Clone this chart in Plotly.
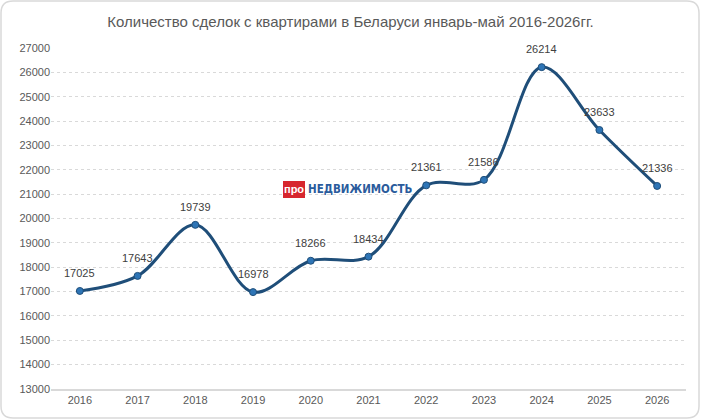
import plotly.graph_objects as go

years = ["2016", "2017", "2018", "2019", "2020", "2021",
         "2022", "2023", "2024", "2025", "2026"]
deals = [17025, 17643, 19739, 16978, 18266, 18434,
         21361, 21586, 26214, 23633, 21336]

title_text = "Количество сделок с квартирами в Беларуси январь-май 2016-2026гг."

W, H = 701, 420
ML, MR, MT, MB = 51, 15, 48, 31
PW, PH = W - ML - MR, H - MT - MB


def px_x(p):
    # pixel column -> paper fraction
    return (p - ML) / PW


def px_y(p):
    # pixel row -> paper fraction
    return (H - MB - p) / PH


fig = go.Figure()
fig.add_trace(go.Scatter(
    x=years, y=deals,
    mode="lines+markers",
    line=dict(color="#1f4e79", width=3, shape="spline", smoothing=1.0),
    marker=dict(color="#2e75b6", size=7, line=dict(color="#1f4e79", width=1)),
    cliponaxis=False,
    hoverinfo="x+y",
))

# data labels above each point (category index, since labels look numeric)
for i, v in enumerate(deals):
    fig.add_annotation(x=i, y=v, xref="x", yref="y", text=str(v),
                       showarrow=False, yshift=18,
                       font=dict(family="Liberation Sans, Arial", size=11, color="#404040"))

# rounded frame around the whole chart
x0, x1, y0, y1, r = px_x(1), px_x(699), px_y(1), px_y(418), 12
rx, ry = r / PW, r / PH
path = (f"M {x0 + rx} {y0} L {x1 - rx} {y0} Q {x1} {y0} {x1} {y0 - ry} "
        f"L {x1} {y1 + ry} Q {x1} {y1} {x1 - rx} {y1} "
        f"L {x0 + rx} {y1} Q {x0} {y1} {x0} {y1 + ry} "
        f"L {x0} {y0 - ry} Q {x0} {y0} {x0 + rx} {y0} Z")
fig.add_shape(type="path", path=path, xref="paper", yref="paper",
              line=dict(color="#d9d9d9", width=1.5), layer="below")

# watermark logo
fig.add_shape(type="rect", xref="paper", yref="paper",
              x0=px_x(283), x1=px_x(305), y0=px_y(198), y1=px_y(181),
              fillcolor="#d7262e", line=dict(width=0))
fig.add_annotation(x=px_x(294), y=px_y(189), xref="paper", yref="paper",
                   text="<b>про</b>", showarrow=False,
                   font=dict(family="Liberation Sans, Arial", size=11, color="white"))
fig.add_annotation(x=px_x(306), y=px_y(189), xref="paper", yref="paper",
                   xanchor="left", text="<b>НЕДВИЖИМОСТЬ</b>", showarrow=False,
                   font=dict(family="DejaVu Sans Condensed, Arial Narrow, Arial",
                             size=11.5, color="#2a5b9c"))

fig.update_layout(
    width=W, height=H,
    margin=dict(l=ML, r=MR, t=MT, b=MB, autoexpand=False),
    paper_bgcolor="white", plot_bgcolor="white",
    showlegend=False,
    title=dict(text=title_text, x=0.5, xanchor="center", y=1 - 22 / H, yanchor="middle",
               font=dict(family="Liberation Sans, Arial", size=15, color="#595959")),
    font=dict(family="Liberation Sans, Arial", size=11, color="#595959"),
)
fig.update_xaxes(
    type="category", range=[-0.5, len(years) - 0.5],
    showgrid=False, showline=True, automargin=False,
    linecolor="#d9d9d9", linewidth=1.5, ticks="",
    tickfont=dict(size=11, color="#595959"),
)
fig.update_yaxes(
    range=[13000, 27000], dtick=1000, tickformat="d", showgrid=True,
    gridcolor="#d9d9d9", griddash="dot", gridwidth=1, automargin=False,
    zeroline=False, showline=False, ticks="",
    tickfont=dict(size=11, color="#595959"),
)

# drop the default page margin so the chart sits at the window corner
fig.write_html("out.html", config={"displayModeBar": False},
               post_script="document.body.style.margin='0';")
